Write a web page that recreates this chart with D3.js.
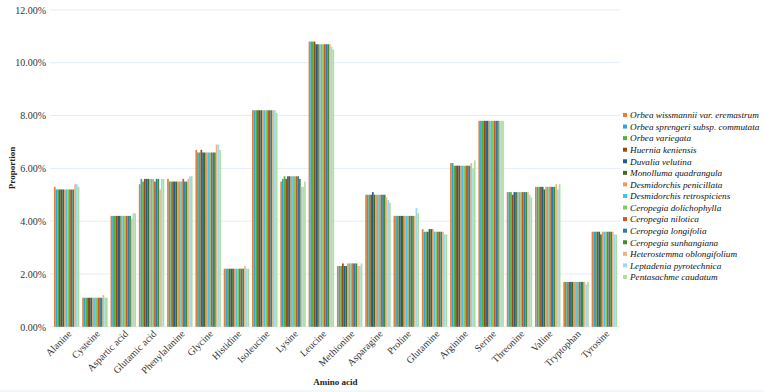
<!DOCTYPE html>
<html><head><meta charset="utf-8">
<script src="https://cdn.jsdelivr.net/npm/d3@7"></script>
<style>body{margin:0;background:#fff}svg{display:block}</style>
</head><body>
<svg id="chart" width="764" height="392"></svg>
<script>
const categories = ["Alanine","Cysteine","Aspartic acid","Glutamic acid","Phenylalanine","Glycine","Histidine","Isoleucine","Lysine","Leucine","Methionine","Asparagine","Proline","Glutamine","Arginine","Serine","Threonine","Valine","Tryptophan","Tyrosine"];
const seriesNames = ["Orbea wissmannii var. eremastrum","Orbea sprengeri subsp. commutata","Orbea variegata","Huernia keniensis","Duvalia velutina","Monolluma quadrangula","Desmidorchis penicillata","Desmidorchis retrospiciens","Ceropegia dolichophylla","Ceropegia nilotica","Ceropegia longifolia","Ceropegia sunhangiana","Heterostemma oblongifolium","Leptadenia pyrotechnica","Pentasachme caudatum"];
const colors = ["#ED7D31","#2AA5DE","#4FB23C","#9E480E","#1F5F8E","#3F6B2A","#F1975A","#45C0F2","#7ACF5C","#D0561C","#2E78B6","#3A8F2E","#F4B183","#9DD8F4","#A8E29A"];
// values in percent, one array per amino acid (15 species each)
const alanine      = [5.3,5.2,5.2,5.2,5.2,5.2,5.2,5.2,5.2,5.2,5.2,5.2,5.4,5.4,5.3];
const cysteine     = [1.1,1.1,1.1,1.1,1.1,1.1,1.1,1.1,1.1,1.1,1.1,1.1,1.2,1.1,1.1];
const asparticAcid = [4.2,4.2,4.2,4.2,4.2,4.2,4.2,4.2,4.2,4.2,4.2,4.2,4.1,4.3,4.3];
const glutamicAcid = [5.4,5.6,5.5,5.6,5.6,5.6,5.6,5.6,5.6,5.5,5.6,5.6,5.2,5.6,5.6];
const phenylalanine= [5.6,5.5,5.5,5.5,5.5,5.5,5.5,5.5,5.5,5.6,5.5,5.5,5.6,5.7,5.7];
const glycine      = [6.7,6.6,6.6,6.7,6.6,6.6,6.6,6.6,6.6,6.6,6.6,6.6,6.9,6.9,6.7];
const histidine    = [2.2,2.2,2.2,2.2,2.2,2.2,2.2,2.2,2.2,2.2,2.2,2.2,2.3,2.2,2.2];
const isoleucine   = [8.2,8.2,8.2,8.2,8.2,8.2,8.2,8.2,8.2,8.2,8.2,8.2,8.2,8.2,8.1];
const lysine       = [5.5,5.6,5.7,5.6,5.7,5.7,5.7,5.7,5.7,5.7,5.7,5.6,5.3,5.3,5.5];
const leucine      = [10.8,10.8,10.8,10.8,10.7,10.7,10.7,10.7,10.7,10.7,10.7,10.7,10.7,10.6,10.5];
const methionine   = [2.3,2.3,2.3,2.4,2.3,2.3,2.4,2.4,2.4,2.4,2.4,2.4,2.3,2.3,2.4];
const asparagine   = [5.0,5.0,5.0,5.0,5.1,5.0,5.0,5.0,5.0,5.0,5.0,5.0,4.9,4.8,4.7];
const proline      = [4.2,4.2,4.2,4.2,4.2,4.2,4.2,4.2,4.2,4.2,4.2,4.2,4.2,4.5,4.3];
const glutamine    = [3.7,3.6,3.6,3.6,3.7,3.7,3.7,3.6,3.6,3.6,3.6,3.6,3.6,3.5,3.5];
const arginine     = [6.2,6.2,6.1,6.1,6.1,6.1,6.1,6.1,6.1,6.1,6.1,6.1,6.2,6.0,6.3];
const serine       = [7.8,7.8,7.8,7.8,7.8,7.8,7.8,7.8,7.8,7.8,7.8,7.8,7.8,7.8,7.8];
const threonine    = [5.1,5.1,5.1,5.0,5.1,5.1,5.1,5.1,5.1,5.1,5.1,5.1,5.1,5.0,4.9];
const valine       = [5.3,5.3,5.3,5.3,5.3,5.2,5.3,5.3,5.3,5.3,5.3,5.3,5.4,5.2,5.4];
const tryptophan   = [1.7,1.7,1.7,1.7,1.7,1.7,1.7,1.7,1.7,1.7,1.7,1.7,1.7,1.6,1.7];
const tyrosine     = [3.6,3.6,3.6,3.6,3.6,3.5,3.6,3.6,3.6,3.6,3.6,3.6,3.6,3.5,3.5];
const yTicks = [0,0.02,0.04,0.06,0.08,0.10,0.12];

const groups = [alanine,cysteine,asparticAcid,glutamicAcid,phenylalanine,glycine,histidine,isoleucine,lysine,leucine,methionine,asparagine,proline,glutamine,arginine,serine,threonine,valine,tryptophan,tyrosine];

const FONT = "Liberation Serif";
const svg = d3.select("#chart");
svg.append("rect").attr("x",0).attr("y",390).attr("width",764).attr("height",2).attr("fill","#F1F8F8");

const x = d3.scaleBand().domain(categories).range([52.5,618.5]).paddingInner(0.1).paddingOuter(0.05);
const x1 = d3.scaleBand().domain(d3.range(seriesNames.length)).range([0,x.bandwidth()]);
const y = d3.scaleLinear().domain([0,0.12]).range([326.8,9.9]);

// gridlines
svg.append("g").selectAll("line").data(yTicks).join("line")
  .attr("x1",50).attr("x2",620).attr("y1",d=>y(d)).attr("y2",d=>y(d))
  .attr("stroke","#E3EDF8").attr("stroke-width",1);

// y axis labels
const yAxis = d3.axisLeft(y).tickValues(yTicks).tickFormat(d3.format(".2%")).tickSize(0).tickPadding(0);
const yg = svg.append("g").attr("transform","translate(46,0)").call(yAxis);
yg.select(".domain").remove();
yg.selectAll("text").style("font-family",FONT).style("font-size","10px").attr("fill","#333");

// bars
const g = svg.append("g");
categories.forEach((c,ci)=>{
  g.append("g").attr("transform",`translate(${x(c)},0)`)
   .selectAll("rect").data(groups[ci]).join("rect")
   .attr("x",(d,i)=>x1(i)).attr("width",x1.bandwidth())
   .attr("y",d=>y(d/100)).attr("height",d=>y(0)-y(d/100))
   .attr("fill",(d,i)=>colors[i]);
});

// x axis labels
const xAxis = d3.axisBottom(x).tickSize(0).tickPadding(0);
const xg = svg.append("g").attr("transform","translate(0,332)").call(xAxis);
xg.select(".domain").remove();
xg.selectAll("text").style("font-family",FONT).style("font-size","10px").attr("fill","#333")
  .attr("text-anchor","end").attr("dy","0.35em").attr("transform","translate(3,0) rotate(-45)");

// axis titles
svg.append("text").attr("transform","translate(15,168) rotate(-90)").attr("text-anchor","middle")
  .style("font-family",FONT).style("font-size","9px").style("font-weight","bold").attr("fill","#222").text("Proportion");
svg.append("text").attr("x",335.5).attr("y",385).attr("text-anchor","middle")
  .style("font-family",FONT).style("font-size","9px").style("font-weight","bold").attr("fill","#222").text("Amino acid");

// legend
const lg = svg.append("g").attr("transform","translate(623,115)");
const li = lg.selectAll("g").data(seriesNames).join("g").attr("transform",(d,i)=>`translate(0,${i*11.57})`);
li.append("rect").attr("x",0).attr("y",-2).attr("width",4).attr("height",4).attr("fill",(d,i)=>colors[i]);
li.append("text").attr("x",7).attr("y",0).attr("dy","0.35em")
  .style("font-family",FONT).style("font-size","9.2px").style("font-style","italic").attr("fill","#111").text(d=>d);
</script>
</body></html>
